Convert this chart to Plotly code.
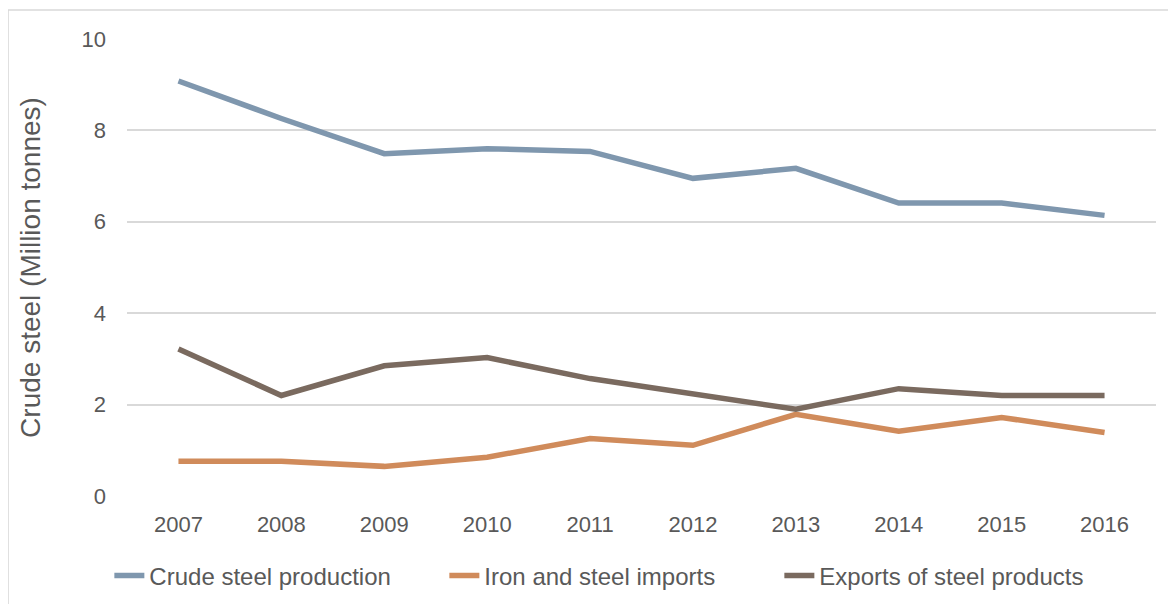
import plotly.graph_objects as go

years = ["2007", "2008", "2009", "2010", "2011", "2012", "2013", "2014", "2015", "2016"]
crude_steel = [9.08, 8.26, 7.49, 7.60, 7.54, 6.95, 7.17, 6.41, 6.41, 6.14]
imports = [0.76, 0.76, 0.65, 0.85, 1.26, 1.11, 1.79, 1.42, 1.72, 1.39]
exports = [3.22, 2.20, 2.85, 3.03, 2.57, 2.24, 1.90, 2.35, 2.20, 2.20]
y_ticks = [0, 2, 4, 6, 8, 10]

fig = go.Figure()
fig.add_trace(go.Scatter(x=years, y=crude_steel, mode="lines", name="Crude steel production",
                         line=dict(color="#7F97AE", width=5.5)))
fig.add_trace(go.Scatter(x=years, y=imports, mode="lines", name="Iron and steel imports",
                         line=dict(color="#D08B5B", width=5.5)))
fig.add_trace(go.Scatter(x=years, y=exports, mode="lines", name="Exports of steel products",
                         line=dict(color="#7A6A5F", width=5.5)))

fig.update_layout(
    width=1168, height=596,
    margin=dict(l=119, r=20, t=30, b=107, autoexpand=False),
    paper_bgcolor="white", plot_bgcolor="white",
    font=dict(family="Liberation Sans, Arial, sans-serif", color="#595959", size=22),
    xaxis=dict(type="category", range=[-0.5, 9.5], showgrid=False, showline=False, ticks="",
               automargin=False, ticklabelstandoff=12,
               tickfont=dict(size=22, color="#595959")),
    yaxis=dict(range=[-0.02, 10.02], tickvals=y_ticks, showgrid=True, gridcolor="#D9D9D9", gridwidth=1.5,
               zeroline=False, showline=False, ticks="", automargin=False, ticklabelstandoff=20,
               title=dict(text="Crude steel (Million tonnes)", font=dict(size=28, color="#595959"), standoff=32),
               tickfont=dict(size=22, color="#595959")),
    legend=dict(orientation="h", x=0.517, xanchor="center", xref="container",
                y=0.047, yanchor="middle", yref="container",
                font=dict(size=24, color="#595959"), entrywidth=290, tracegroupgap=0),
    showlegend=True,
)
fig.add_shape(type="rect", xref="paper", yref="paper", x0=-0.1156, x1=1.04, y0=-0.235, y1=1.061,
              line=dict(color="#D9D9D9", width=1.5), layer="below")
fig.write_html("out.html")
